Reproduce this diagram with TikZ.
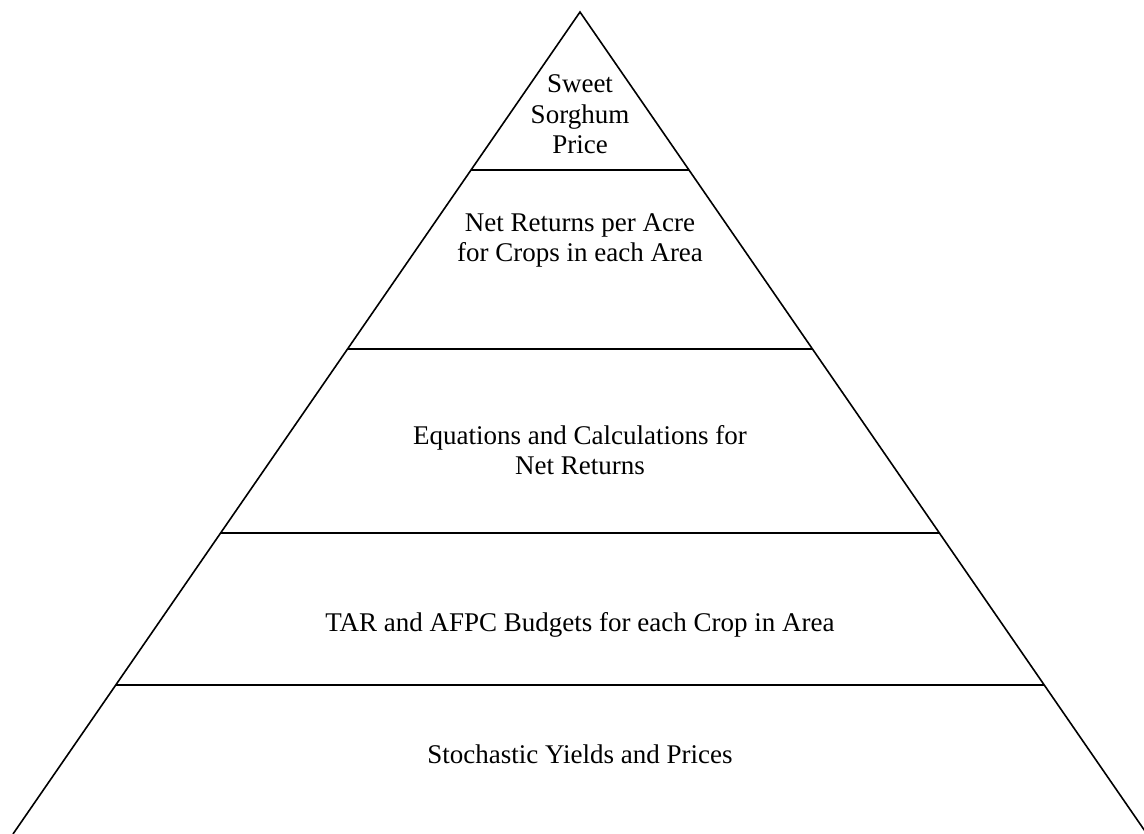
\documentclass[tikz,border=0pt]{standalone}
\usepackage{fontspec}
\setmainfont{Liberation Serif}
\begin{document}
\begin{tikzpicture}[x=1pt,y=-1pt,
  edge/.style={line width=1.6pt,black},
  tier/.style={line width=1.6pt,black},
  lbl/.style={align=center,inner sep=0pt,anchor=base,font=\fontsize{27}{30.5}\selectfont}]
\useasboundingbox (0,0) rectangle (1144,834);
\coordinate (apex) at (580,12);
\coordinate (bl) at (13,834);
\coordinate (br) at (1147,834);
\draw[edge] (bl) -- (apex) -- (br);
\foreach \y/\n in {170/a,349/b,533/c,685/d}{
  \path (apex) -- (bl) coordinate[pos={(\y-12)/822}] (L\n);
  \path (apex) -- (br) coordinate[pos={(\y-12)/822}] (R\n);
  \draw[tier] (L\n) -- (R\n);
}
% anchor=base puts the last line's baseline at the given point
\node[lbl] (t1) at (580,154) {Sweet\\Sorghum\\Price};
\node[lbl] (t2) at (580,262) {Net Returns per Acre\\for Crops in each Area};
\node[lbl] (t3) at (580,475) {Equations and Calculations for\\Net Returns};
\node[lbl] (t4) at (580,631) {TAR and AFPC Budgets for each Crop in Area};
\node[lbl] (t5) at (580,763) {Stochastic Yields and Prices};
\end{tikzpicture}
\end{document}
